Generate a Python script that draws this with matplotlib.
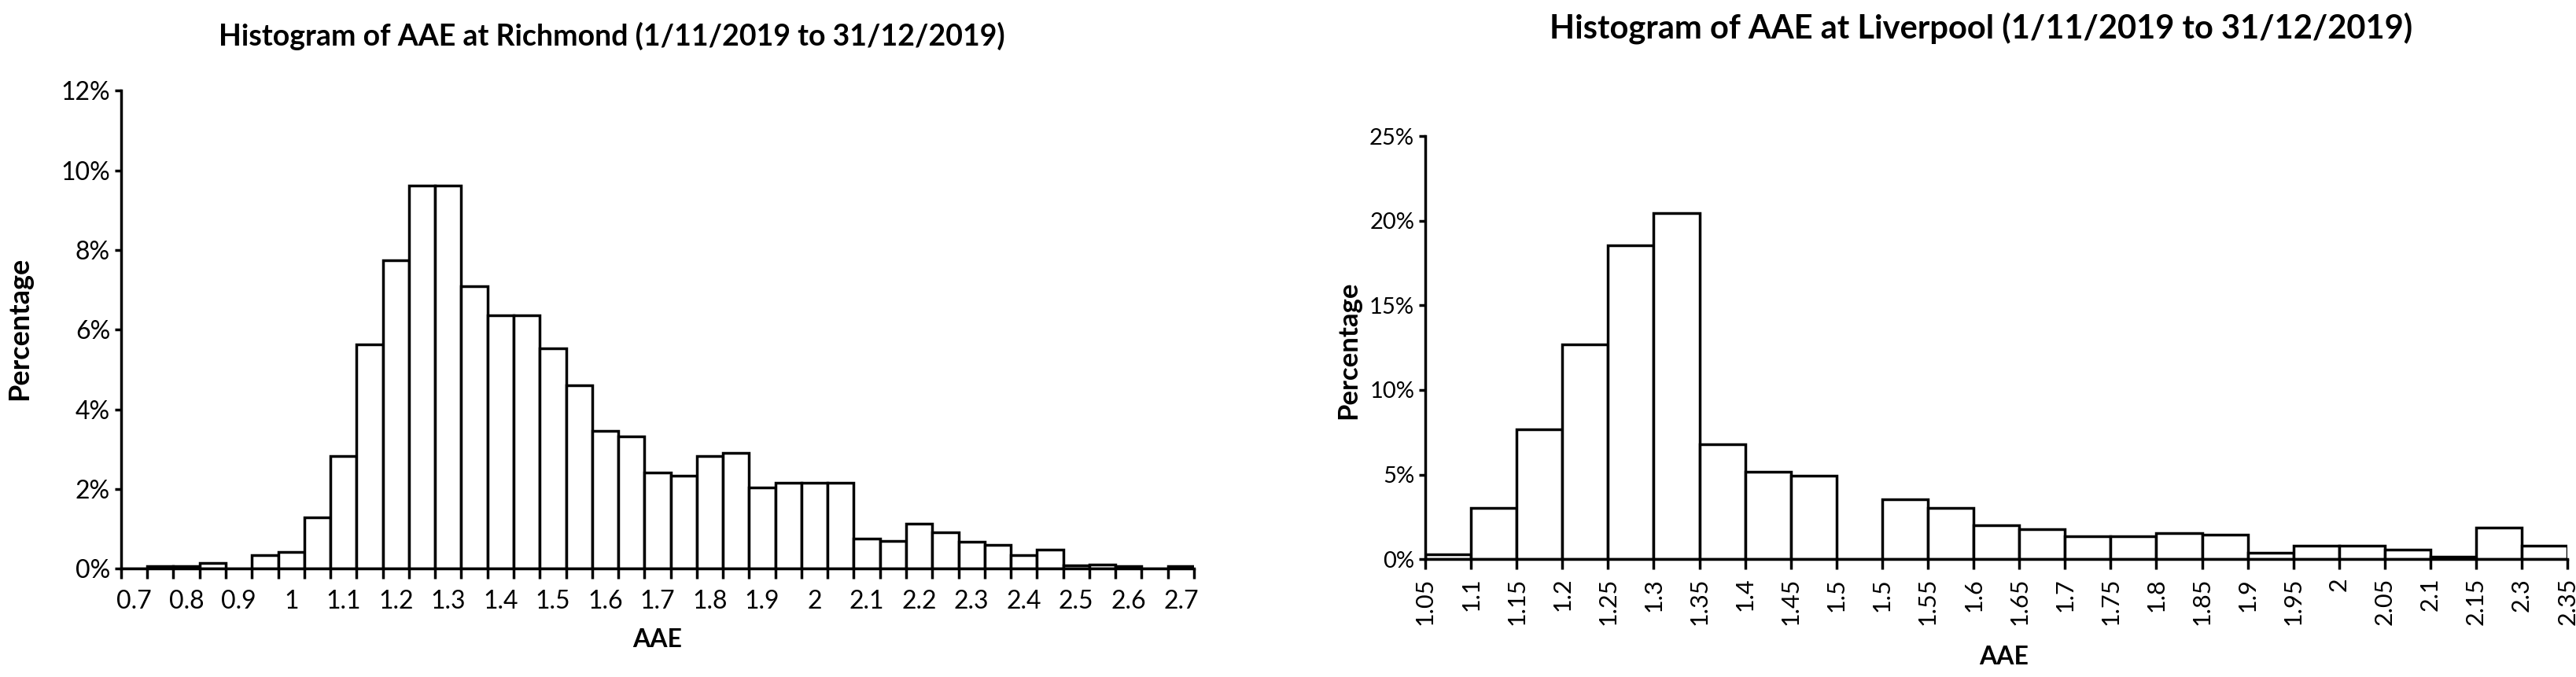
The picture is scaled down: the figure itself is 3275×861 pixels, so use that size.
import matplotlib.pyplot as plt
import matplotlib.ticker as ticker

plt.rcParams['font.family'] = ['Lato', 'DejaVu Sans']

# Richmond histogram (percent per bin)
richmond_bins = ['0.7', '0.75', '0.8', '0.85', '0.9', '0.95', '1', '1.05', '1.1', '1.15',
                 '1.2', '1.25', '1.3', '1.35', '1.4', '1.45', '1.5', '1.55', '1.6', '1.65',
                 '1.7', '1.75', '1.8', '1.85', '1.9', '1.95', '2', '2.05', '2.1', '2.15',
                 '2.2', '2.25', '2.3', '2.35', '2.4', '2.45', '2.5', '2.55', '2.6', '2.65', '2.7']
richmond_pct = [0, 0.06, 0.06, 0.14, 0, 0.35, 0.41, 1.28, 2.83, 5.63,
                7.74, 9.61, 9.61, 7.10, 6.37, 6.37, 5.54, 4.60, 3.45, 3.32,
                2.41, 2.34, 2.83, 2.90, 2.03, 2.16, 2.16, 2.16, 0.75, 0.69,
                1.13, 0.92, 0.68, 0.60, 0.34, 0.47, 0.09, 0.11, 0.06, 0, 0.06]

# Liverpool histogram: labels sit on the bin edges
liverpool_edges = ['1.05', '1.1', '1.15', '1.2', '1.25', '1.3', '1.35', '1.4', '1.45', '1.5',
                   '1.5', '1.55', '1.6', '1.65', '1.7', '1.75', '1.8', '1.85', '1.9', '1.95',
                   '2', '2.05', '2.1', '2.15', '2.3', '2.35']
liverpool_pct = [0.31, 3.01, 7.66, 12.68, 18.56, 20.47, 6.81, 5.15, 4.93, 0,
                 3.52, 3.01, 2.01, 1.77, 1.37, 1.37, 1.55, 1.47, 0.39, 0.82,
                 0.82, 0.55, 0.16, 1.86, 0.82]

fig = plt.figure(figsize=(32.75, 8.61), dpi=100)
ax1 = fig.add_axes([0.047, 0.160, 0.4165, 0.706])
ax2 = fig.add_axes([0.5533, 0.174, 0.4434, 0.625])


def style_axes(ax, n, ymax, ystep, ysize):
    for s in ['top', 'right']:
        ax.spines[s].set_visible(False)
    for s in ['left', 'bottom']:
        ax.spines[s].set_linewidth(2.5)
    ax.set_xlim(-0.5, n - 0.5)
    ax.set_ylim(0, ymax)
    ax.yaxis.set_major_locator(ticker.MultipleLocator(ystep))
    ax.yaxis.set_major_formatter(ticker.FuncFormatter(lambda v, p: f'{v:.0f}%'))
    ax.tick_params(axis='y', length=6, width=2.5, labelsize=ysize, pad=4)
    ax.set_xticks([i - 0.5 for i in range(n + 1)])
    ax.set_xticklabels([])
    ax.tick_params(axis='x', which='major', length=9, width=2.5, direction='out')


x1 = list(range(len(richmond_pct)))
ax1.bar(x1, richmond_pct, width=1.0, color='white', edgecolor='black', linewidth=2.5)
style_axes(ax1, len(richmond_pct), 12, 2, 23)
ax1.set_xticks(x1[::2], minor=True)
ax1.set_xticklabels(richmond_bins[::2], minor=True)
ax1.tick_params(axis='x', which='minor', length=0, labelsize=23, pad=19)

x2 = list(range(len(liverpool_pct)))
ax2.bar(x2, liverpool_pct, width=1.0, color='white', edgecolor='black', linewidth=2.5)
style_axes(ax2, len(liverpool_pct), 25, 5, 21)
ax2.set_xticklabels(liverpool_edges, rotation=90)
ax2.tick_params(axis='x', which='major', labelsize=22, pad=8)

fig.text(0.2376, 0.947, 'Histogram of AAE at Richmond (1/11/2019 to 31/12/2019)',
         ha='center', va='center', fontsize=27, fontweight='bold')
fig.text(0.769, 0.959, 'Histogram of AAE at Liverpool (1/11/2019 to 31/12/2019)',
         ha='center', va='center', fontsize=30, fontweight='bold')
fig.text(0.0076, 0.515, 'Percentage', rotation=90, ha='center', va='center',
         fontsize=26, fontweight='bold')
fig.text(0.5235, 0.483, 'Percentage', rotation=90, ha='center', va='center',
         fontsize=25, fontweight='bold')
fig.text(0.255, 0.055, 'AAE', ha='center', va='center', fontsize=23, fontweight='bold')
fig.text(0.778, 0.030, 'AAE', ha='center', va='center', fontsize=23, fontweight='bold')

fig.savefig('out.png', dpi=100, facecolor='white')
